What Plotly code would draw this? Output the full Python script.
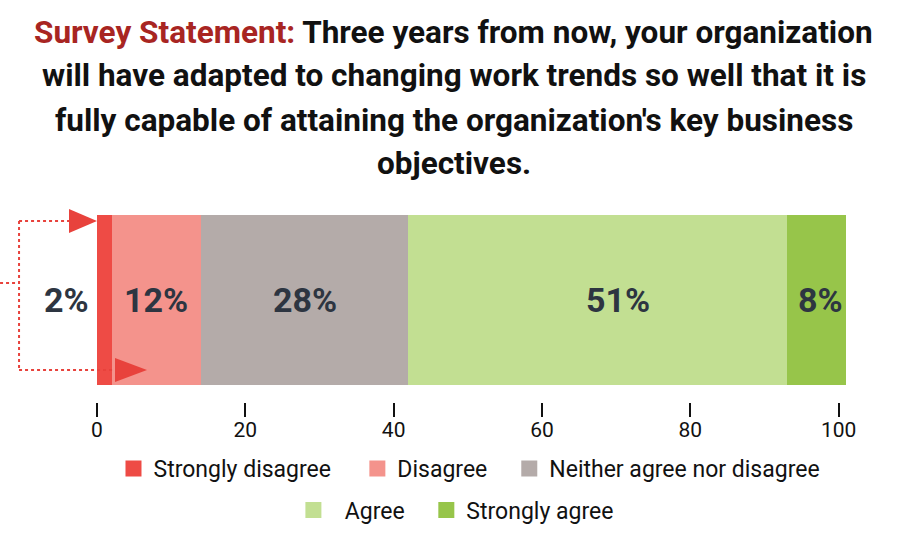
import plotly.graph_objects as go

categories = ["Strongly disagree", "Disagree", "Neither agree nor disagree", "Agree", "Strongly agree"]
legend_names = ["Strongly disagree", "Disagree", "Neither agree nor disagree", "\u00a0\u00a0Agree", "Strongly agree"]
values = [2, 12, 28, 51, 8]
colors = ["#ee4b45", "#f4938c", "#b4aba9", "#c2df92", "#97c54a"]
tick_vals = [0, 20, 40, 60, 80, 100]

title_lines = [
    "<span style='color:#a82522'>Survey Statement:</span> Three years from now, your organization",
    "will have adapted to changing work trends so well that it is",
    "fully capable of attaining the organization's key business",
    "objectives.",
]

# styling / layout (screen pixels)
label_xshift = [-6, 0, 0, 20, 4]
legend_swatch_center = [(133.5, 468.5), (377.5, 468.5), (529.5, 468.5), (313.5, 510), (446.5, 510)]

W, H = 906, 556
ML = 97
MT = 215
PR = 846.4
PB = 402
MR = W - PR
MB = H - PB
PW = W - ML - MR
PH = H - MT - MB


def px(x):
    return (x - ML) / PW


def py(y):
    return (PB - y) / PH


fig = go.Figure()
for name, v, c in zip(categories, values, colors):
    fig.add_trace(go.Bar(
        x=[v], y=[0], orientation="h", name=name, width=1,
        marker=dict(color=c, line=dict(width=0)),
        showlegend=False, hoverinfo="x+name",
    ))

legends = {}
for i, (lname, c) in enumerate(zip(legend_names, colors)):
    key = "legend" if i == 0 else f"legend{i + 1}"
    fig.add_trace(go.Scatter(
        x=[None], y=[None], mode="markers", name=lname, legend=key,
        marker=dict(symbol="square", size=16, color=c, line=dict(width=0)),
        hoverinfo="skip",
    ))
    cx, cy = legend_swatch_center[i]
    legends[key] = dict(orientation="h", x=px(cx - 20), xanchor="left", y=py(cy), yanchor="middle",
                        font=dict(family="Roboto", size=23, color="#111111"),
                        bgcolor="rgba(0,0,0,0)", borderwidth=0)

annotations = []
cum = 0
for i, v in enumerate(values):
    mid = cum + v / 2
    lbl_font = dict(family="Roboto", size=34, color="#2d3541", weight="bold")
    if i == 0:
        annotations.append(dict(x=0, y=0, xref="x", yref="y", text=f"{v}%", showarrow=False,
                                xanchor="right", xshift=label_xshift[i], font=lbl_font))
    else:
        annotations.append(dict(x=mid, y=0, xref="x", yref="y", text=f"{v}%", showarrow=False,
                                xshift=label_xshift[i], font=lbl_font))
    cum += v

title_y = [32, 76, 120, 163]
for t, yy in zip(title_lines, title_y):
    annotations.append(dict(x=px(454), y=py(yy), xref="paper", yref="paper", text=t, showarrow=False,
                            xanchor="center", yanchor="middle",
                            font=dict(family="Roboto", size=31.5, color="#111111", weight="bold")))

red = "#e8423c"
line_style = dict(color=red, width=2, dash="dot")
shapes = [
    dict(type="line", xref="paper", yref="paper", x0=px(0), y0=py(283), x1=px(19), y1=py(283), line=line_style),
    dict(type="line", xref="paper", yref="paper", x0=px(19), y0=py(221), x1=px(19), y1=py(370), line=line_style),
    dict(type="line", xref="paper", yref="paper", x0=px(19), y0=py(221), x1=px(70), y1=py(221), line=line_style),
    dict(type="line", xref="paper", yref="paper", x0=px(19), y0=py(370), x1=px(116), y1=py(370), line=line_style),
    dict(type="path", xref="paper", yref="paper",
         path=f"M{px(69)},{py(209)} L{px(69)},{py(233)} L{px(97)},{py(221)} Z",
         fillcolor=red, line=dict(width=0)),
    dict(type="path", xref="paper", yref="paper",
         path=f"M{px(115)},{py(358)} L{px(115)},{py(382)} L{px(147)},{py(370)} Z",
         fillcolor=red, line=dict(width=0)),
]

fig.update_layout(
    width=W, height=H,
    margin=dict(l=ML, r=MR, t=MT, b=MB, pad=0),
    barmode="stack",
    plot_bgcolor="white", paper_bgcolor="white",
    font=dict(family="Roboto", color="#111111"),
    xaxis=dict(range=[0, 101], tickvals=tick_vals, ticks="outside", ticklen=14, tickwidth=2,
               tickcolor="#111111", showgrid=False, zeroline=False, showline=False,
               ticklabelstandoff=-5,
               tickfont=dict(family="Roboto", size=21, color="#111111")),
    yaxis=dict(range=[-0.6, 0.5], visible=False, fixedrange=True),
    annotations=annotations,
    shapes=shapes,
    showlegend=True,
    **legends,
)

fig.write_html("out.html", config={"displayModeBar": False},
               post_script="document.body.style.margin='0px';document.body.style.overflow='hidden';")
